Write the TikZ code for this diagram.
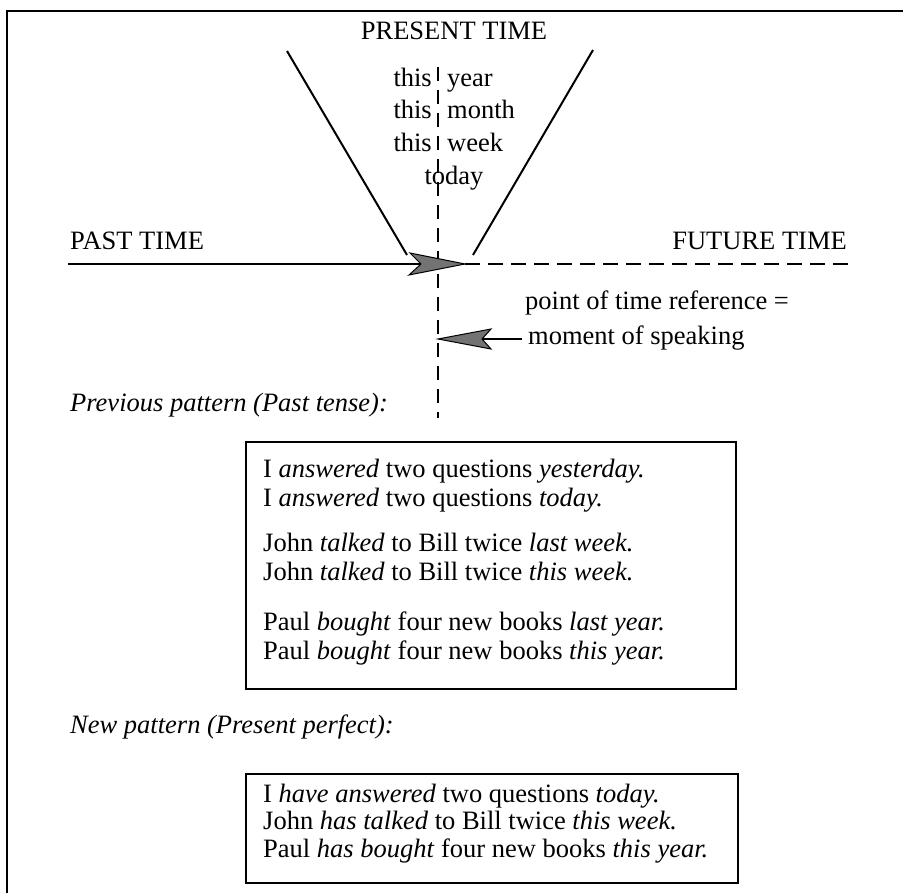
\documentclass[tikz,border=0pt]{standalone}
\usepackage{fontspec}
\setmainfont{Liberation Serif}
\begin{document}
\begin{tikzpicture}[x=1pt,y=-1pt,
  txt/.style={inner sep=0pt, font=\fontsize{26.5}{28}\selectfont},
  frameline/.style={line width=2.6pt},
  vline/.style={line width=2pt},
  timeline/.style={line width=2pt},
  dashv/.style={line width=1.4pt, dash pattern=on 14pt off 9pt},
  dashh/.style={line width=2pt, dash pattern=on 15pt off 8pt},
  headfill/.style={fill=black!55, draw=black, line width=1pt, line join=miter},
  boxstyle/.style={draw, line width=1.6pt, inner sep=0pt, anchor=north west}]
\useasboundingbox (0,0) rectangle (903,893);
% outer frame (only top and left edges visible)
\coordinate (frBL) at (7,893);
\coordinate (frTL) at (7,11);
\coordinate (frTR) at (903,11);
\draw[frameline] (frBL) -- (frTL) -- (frTR);

% labels
\node[txt, anchor=base] (present) at (454,40) {PRESENT TIME};
\node[txt, anchor=base west] (past) at (70,250) {PAST TIME};
\node[txt, anchor=base east] (future) at (847,250) {FUTURE TIME};

\node[txt, anchor=base east] (this1) at (432,87) {this};
\node[txt, anchor=base west] (year) at (447,87) {year};
\node[txt, anchor=base east] (this2) at (432,119) {this};
\node[txt, anchor=base west] (month) at (447,119) {month};
\node[txt, anchor=base east] (this3) at (432,152) {this};
\node[txt, anchor=base west] (week) at (447,152) {week};
\node[txt, anchor=base] (today) at (454,185) {today};

% V lines
\coordinate (VL1) at (287,51);
\coordinate (VL2) at (407,255);
\coordinate (VR1) at (593,50);
\coordinate (VR2) at (473,255);
\draw[vline] (VL1) -- (VL2);
\draw[vline] (VR1) -- (VR2);

% vertical dashed line
\coordinate (vTop) at (438,67);
\coordinate (vBot) at (438,418);
\draw[dashv] (vTop) -- (vBot);

% time line with arrow
\coordinate (lineL) at (68,264);
\coordinate (notchA) at (421,264);
\coordinate (tipA) at (465,264);
\coordinate (lineR) at (850,264);
\draw[timeline] (lineL) -- (notchA);
\filldraw[headfill] (tipA) -- (410,253) -- (notchA) -- (409,275) -- cycle;
\draw[dashh] (tipA) -- (lineR);

% point of time reference
\node[txt, anchor=base west] (point) at (525,310) {point of time reference =};
\node[txt, anchor=base west] (moment) at (528,345) {moment of speaking};
\coordinate (tipB) at (438,339);
\coordinate (notchB) at (482,339);
\coordinate (tailB) at (522,339);
\draw[line width=1.6pt] (notchB) -- (tailB);
\filldraw[headfill] (tipB) -- (491,329) -- (notchB) -- (491,349) -- cycle;

% previous pattern
\node[txt, anchor=base west] (prevlabel) at (70,412) {\textit{Previous pattern (Past tense):}};
\node[boxstyle, minimum width=490pt, minimum height=247pt] (box1) at (245,441) {};
\node[txt, anchor=base west] (p1) at (263,477) {I \textit{answered} two questions \textit{yesterday.}};
\node[txt, anchor=base west] (p2) at (263,506) {I \textit{answered} two questions \textit{today.}};
\node[txt, anchor=base west] (p3) at (263,551) {John \textit{talked} to Bill twice \textit{last week.}};
\node[txt, anchor=base west] (p4) at (263,580) {John \textit{talked} to Bill twice \textit{this week.}};
\node[txt, anchor=base west] (p5) at (263,630) {Paul \textit{bought} four new books \textit{last year.}};
\node[txt, anchor=base west] (p6) at (263,659) {Paul \textit{bought} four new books \textit{this year.}};

% new pattern
\node[txt, anchor=base west] (newlabel) at (70,733) {\textit{New pattern (Present perfect):}};
\node[boxstyle, minimum width=492pt, minimum height=109pt] (box2) at (245,773) {};
\node[txt, anchor=base west] (n1) at (263,802) {I \textit{have answered} two questions \textit{today.}};
\node[txt, anchor=base west] (n2) at (263,829) {John \textit{has talked} to Bill twice \textit{this week.}};
\node[txt, anchor=base west] (n3) at (263,857) {Paul \textit{has bought} four new books \textit{this year.}};
\end{tikzpicture}
\end{document}
